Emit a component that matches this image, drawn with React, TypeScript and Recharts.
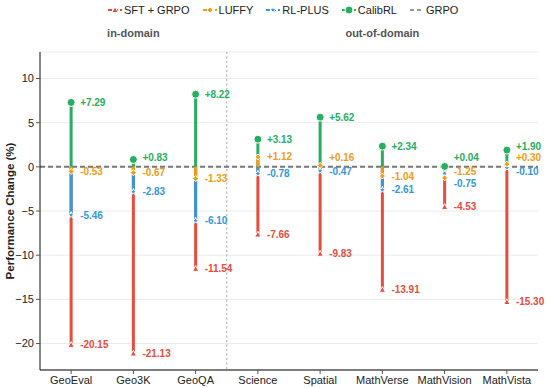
import React from 'react';
import {
  ComposedChart,
  Line,
  XAxis,
  YAxis,
  CartesianGrid,
  ReferenceLine,
  ReferenceArea,
  ErrorBar,
} from 'recharts';

// ---------------- data ----------------
const categories = ['GeoEval', 'Geo3K', 'GeoQA', 'Science', 'Spatial', 'MathVerse', 'MathVision', 'MathVista'];
const sftGrpo = [-20.15, -21.13, -11.54, -7.66, -9.83, -13.91, -4.53, -15.3];
const luffy = [-0.53, -0.67, -1.33, 1.12, 0.16, -1.04, -1.25, 0.3];
const rlPlus = [-5.46, -2.83, -6.1, -0.78, -0.47, -2.61, -0.75, -0.1];
const calibRL = [7.29, 0.83, 8.22, 3.13, 5.62, 2.34, 0.04, 1.9];
const yTicks = [-20, -15, -10, -5, 0, 5, 10];
const yDomain: [number, number] = [-23, 13];
const inDomainRange = ['GeoEval', 'GeoQA'];
const outDomainRange = ['Science', 'MathVista'];

// ---------------- layout / style ----------------
const W = 548;
const H = 388;
const M_TOP = 52;
const M_RIGHT = 10;
const Y_AXIS_W = 40;
const X_AXIS_H = 18;
const PLOT_H = H - M_TOP - X_AXIS_H;
const PX_PER_UNIT = PLOT_H / (yDomain[1] - yDomain[0]);
const FONT = '"Liberation Sans", Arial, Helvetica, sans-serif';

type Marker = 'triangle' | 'diamond' | 'star' | 'circle';
interface Series {
  key: string;
  name: string;
  color: string;
  marker: Marker;
  values: number[];
}

const SFT: Series = { key: 'sft', name: 'SFT + GRPO', color: '#e74c3c', marker: 'triangle', values: sftGrpo };
const LUF: Series = { key: 'luffy', name: 'LUFFY', color: '#f39c12', marker: 'diamond', values: luffy };
const RLP: Series = { key: 'rlplus', name: 'RL-PLUS', color: '#3498db', marker: 'star', values: rlPlus };
const CAL: Series = { key: 'calib', name: 'CalibRL', color: '#27ae60', marker: 'circle', values: calibRL };

const legendOrder = [SFT, LUF, RLP, CAL];
const stemOrder = [SFT, RLP, CAL, LUF];
const markerOrder = [SFT, RLP, CAL, LUF];
const labelOrder = [CAL, LUF, RLP, SFT]; // top-to-bottom order of value labels

const data = categories.map((cat, i) => {
  const row: Record<string, any> = { cat };
  legendOrder.forEach((s) => {
    const v = s.values[i];
    row[s.key] = v;
    row[s.key + 'Err'] = v >= 0 ? [v, 0] : [0, -v];
  });
  return row;
});

// label de-overlap: positions relative to zero line in px (y down)
const GAP = 11.5;
const POS_LIMIT = -9;
const NEG_LIMIT = 5;
function layoutRow(i: number): Record<string, number> {
  const vals = labelOrder.map((s) => s.values[i]);
  const desired = vals.map((v) => {
    const d = -v * PX_PER_UNIT;
    return v >= 0 ? Math.min(d, POS_LIMIT) : Math.max(d, NEG_LIMIT);
  });
  const blocks: { first: number; n: number; sum: number }[] = [];
  desired.forEach((d, idx) => {
    blocks.push({ first: idx, n: 1, sum: d });
    while (blocks.length > 1) {
      const b = blocks[blocks.length - 1];
      const a = blocks[blocks.length - 2];
      const aLast = a.sum / a.n + (a.n - 1) * GAP;
      const bPos = b.sum / b.n;
      if (bPos < aLast + GAP) {
        a.sum += b.sum - b.n * a.n * GAP;
        a.n += b.n;
        blocks.pop();
      } else break;
    }
  });
  const pos: number[] = new Array(vals.length);
  blocks.forEach((b) => {
    const p = b.sum / b.n;
    for (let j = 0; j < b.n; j++) pos[b.first + j] = p + j * GAP;
  });
  // keep positive labels above the zero line, pushing upward
  for (let j = pos.length - 1; j >= 0; j--) {
    if (vals[j] >= 0 && pos[j] > POS_LIMIT) pos[j] = POS_LIMIT;
    if (j < pos.length - 1 && pos[j] > pos[j + 1] - GAP) pos[j] = pos[j + 1] - GAP;
  }
  // keep negative labels below the zero line, pushing downward
  for (let j = 0; j < pos.length; j++) {
    if (vals[j] < 0 && pos[j] < NEG_LIMIT) pos[j] = NEG_LIMIT;
    if (j > 0 && pos[j] < pos[j - 1] + GAP) pos[j] = pos[j - 1] + GAP;
  }
  const out: Record<string, number> = {};
  labelOrder.forEach((s, j) => {
    out[s.key] = pos[j] + vals[j] * PX_PER_UNIT;
  });
  return out;
}
const labelOffsets = categories.map((_, i) => layoutRow(i));

function fmt(v: number) {
  return (v >= 0 ? '+' : '') + v.toFixed(2);
}

function MarkerShape({ type, cx, cy, color }: { type: Marker; cx: number; cy: number; color: string }) {
  const sw = 1;
  if (type === 'circle') return <circle cx={cx} cy={cy} r={4} fill={color} stroke="#fff" strokeWidth={sw} />;
  if (type === 'triangle') {
    const s = 3.2;
    return (
      <polygon
        points={`${cx},${cy - s} ${cx + s},${cy + s * 0.8} ${cx - s},${cy + s * 0.8}`}
        fill={color}
        stroke="#fff"
        strokeWidth={sw}
      />
    );
  }
  if (type === 'diamond') {
    const s = 3;
    return (
      <polygon
        points={`${cx},${cy - s} ${cx + s},${cy} ${cx},${cy + s} ${cx - s},${cy}`}
        fill={color}
        stroke="#fff"
        strokeWidth={sw}
      />
    );
  }
  const pts: string[] = [];
  for (let k = 0; k < 10; k++) {
    const r = k % 2 === 0 ? 3.4 : 1.5;
    const a = -Math.PI / 2 + (k * Math.PI) / 5;
    pts.push(`${cx + r * Math.cos(a)},${cy + r * Math.sin(a)}`);
  }
  return <polygon points={pts.join(' ')} fill={color} stroke="#fff" strokeWidth={sw} />;
}

function makeDot(s: Series) {
  return (props: any) => {
    const { cx, cy, index } = props;
    if (cx == null || cy == null) return <g key={`${s.key}-${index}`} />;
    const off = labelOffsets[index][s.key];
    return (
      <g key={`${s.key}-${index}`}>
        <MarkerShape type={s.marker} cx={cx} cy={cy} color={s.color} />
        <text
          x={cx + 9}
          y={cy + off}
          dominantBaseline="central"
          fontSize={10}
          fontWeight="bold"
          fontFamily={FONT}
          fill={s.color}
        >
          {fmt(s.values[index])}
        </text>
      </g>
    );
  };
}

function regionShape(label: string, divider: boolean) {
  return (props: any) => {
    const { x, y, width, height } = props;
    return (
      <g>
        {divider && (
          <line
            x1={x + width}
            x2={x + width}
            y1={y}
            y2={y + height}
            stroke="#bbb"
            strokeWidth={1.3}
            strokeDasharray="2 2.5"
          />
        )}
        <text
          x={x + width / 2}
          y={y - 19}
          textAnchor="middle"
          dominantBaseline="central"
          fontSize={11}
          fontWeight="bold"
          fontFamily={FONT}
          fill="#555"
        >
          {label}
        </text>
      </g>
    );
  };
}

function LegendIcon({ s }: { s?: Series }) {
  if (!s) {
    return (
      <svg width={14} height={10} style={{ display: 'block' }}>
        <line x1={0} x2={14} y1={5} y2={5} stroke="#777" strokeWidth={1.5} strokeDasharray="4 3" />
      </svg>
    );
  }
  return (
    <svg width={14} height={10} style={{ display: 'block' }}>
      <line x1={0} x2={14} y1={5} y2={5} stroke={s.color} strokeWidth={2} strokeDasharray="4 2" />
      <MarkerShape type={s.marker} cx={7} cy={5} color={s.color} />
    </svg>
  );
}

function yTickFmt(v: number) {
  return v < 0 ? '\u2212' + Math.abs(v) : String(v);
}

const YLabel = (props: any) => {
  const vb = props.viewBox || { x: 0, y: M_TOP, width: Y_AXIS_W, height: PLOT_H };
  const cx = vb.x + 10;
  const cy = vb.y + vb.height / 2;
  return (
    <text
      x={cx}
      y={cy}
      transform={`rotate(-90, ${cx}, ${cy})`}
      textAnchor="middle"
      dominantBaseline="central"
      fontSize={11.5}
      fontWeight="bold"
      fontFamily={FONT}
      fill="#222"
    >
      Performance Change (%)
    </text>
  );
};

export default function App() {
  return (
    <div style={{ position: 'absolute', left: 0, top: 0, width: W, height: H, fontFamily: FONT }}>
      <ComposedChart
        width={W}
        height={H}
        data={data}
        margin={{ top: M_TOP, right: M_RIGHT, bottom: 0, left: 0 }}
      >
        <CartesianGrid vertical={false} stroke="#ebebeb" />
        <XAxis
          dataKey="cat"
          scale="band"
          height={X_AXIS_H}
          tickSize={4}
          tickMargin={2}
          tick={{ fontSize: 11, fill: '#222', fontFamily: FONT }}
          axisLine={{ stroke: '#555', strokeWidth: 1.5 }}
          tickLine={{ stroke: '#555' }}
          interval={0}
        />
        <YAxis
          width={Y_AXIS_W}
          domain={yDomain}
          ticks={yTicks}
          tickFormatter={yTickFmt}
          tickSize={4}
          tickMargin={2}
          tick={{ fontSize: 11, fill: '#222', fontFamily: FONT }}
          axisLine={{ stroke: '#111' }}
          tickLine={{ stroke: '#555' }}
          allowDataOverflow
          label={<YLabel />}
        />
        <ReferenceArea
          x1={inDomainRange[0]}
          x2={inDomainRange[1]}
          fill="none"
          stroke="none"
          ifOverflow="visible"
          shape={regionShape('in-domain', true)}
        />
        <ReferenceArea
          x1={outDomainRange[0]}
          x2={outDomainRange[1]}
          fill="none"
          stroke="none"
          ifOverflow="visible"
          shape={regionShape('out-of-domain', false)}
        />
        <ReferenceLine y={0} stroke="#777" strokeWidth={2} strokeDasharray="5 3" />
        {stemOrder.map((s) => (
          <Line
            key={'stem-' + s.key}
            dataKey={s.key}
            stroke="none"
            dot={false}
            activeDot={false}
            legendType="none"
            isAnimationActive={false}
          >
            <ErrorBar
              dataKey={s.key + 'Err'}
              width={0}
              stroke={s.color}
              strokeWidth={3}
              direction="y"
              isAnimationActive={false}
            />
          </Line>
        ))}
        {markerOrder.map((s) => (
          <Line
            key={'mk-' + s.key}
            dataKey={s.key}
            name={s.name}
            stroke="none"
            dot={makeDot(s)}
            activeDot={false}
            isAnimationActive={false}
          />
        ))}
      </ComposedChart>
      <div
        style={{
          position: 'absolute',
          left: 108,
          top: 1,
          height: 17,
          display: 'flex',
          alignItems: 'center',
          fontSize: 11,
          color: '#222',
          whiteSpace: 'nowrap',
        }}
      >
        {[...legendOrder, undefined].map((s, i) => (
          <div key={i} style={{ display: 'flex', alignItems: 'center', marginRight: 13 }}>
            <LegendIcon s={s} />
            <span style={{ marginLeft: 2 }}>{s ? s.name : 'GRPO'}</span>
          </div>
        ))}
      </div>
    </div>
  );
}
